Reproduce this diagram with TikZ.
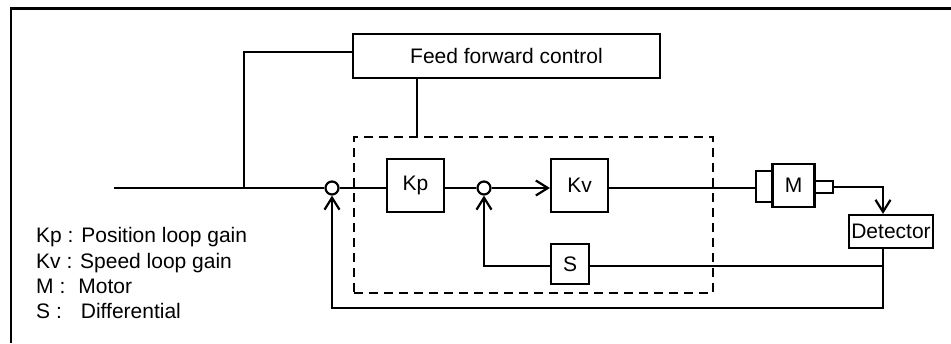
\documentclass[tikz,border=0pt]{standalone}
\usepackage{fontspec}
\setmainfont{Liberation Sans}
\usetikzlibrary{arrows.meta}
\begin{document}
\begin{tikzpicture}[x=1pt,y=-1pt,
  ln/.style={line width=2.2pt},
  blk/.style={draw,line width=2.2pt,inner sep=0pt,font=\fontsize{21}{25}\selectfont},
  sumj/.style={draw,circle,line width=2.2pt,minimum size=13pt,inner sep=0pt},
  arr/.style={-{Straight Barb[length=12pt,width=15pt]}},
  txt/.style={font=\fontsize{21}{25}\selectfont,inner sep=0pt,anchor=base west}]
\useasboundingbox (0,0) rectangle (951,343);
\draw[ln] (11,343) -- (11,8.5) -- (951,8.5);
% blocks
\node[blk,minimum width=307pt,minimum height=44pt] (ff) at (506.5,56) {Feed forward control};
\node[draw,dashed,line width=2.6pt,dash pattern=on 9pt off 6pt,minimum width=359pt,minimum height=156pt] (inner) at (533.5,215) {};
\node[blk,minimum width=57pt,minimum height=53pt] (kp) at (415.5,185.5) {Kp};
\node[blk,minimum width=57pt,minimum height=53pt] (kv) at (579.5,185.5) {Kv};
\node[blk,minimum width=38pt,minimum height=40pt] (s) at (570,264) {S};
\node[blk,minimum width=16pt,minimum height=31pt] (mleft) at (764,186.5) {};
\node[blk,minimum width=42pt,minimum height=43pt] (m) at (793.5,185.5) {M};
\node[blk,minimum width=19pt,minimum height=12pt] (shaft) at (823.5,187) {};
\node[blk,minimum width=84pt,minimum height=33pt] (det) at (891,231.5) {Detector};
\node[sumj] (sum1) at (332,188) {};
\node[sumj] (sum2) at (484,188) {};
% coordinates
\coordinate (in) at (114,188);
\coordinate (jn) at (244,188);
\coordinate (ffd) at (417,137);
\coordinate (dx) at (883,308);
\coordinate (sj) at (883,266);
% connectors
\draw[ln] (in) -- (sum1.west);
\draw[ln] ([yshift=4pt]ff.west) -| (jn);
\draw[ln] (ffd |- ff.south) -- (ffd);
\draw[ln] (sum1.east) -- (sum1.east -| kp.west);
\draw[ln] (kp.east |- sum2.west) -- (sum2.west);
\draw[ln,arr] (sum2.east) -- (sum2.east -| kv.west);
\draw[ln] (kv.east |- sum2) -- (sum2 -| mleft.west);
\draw[ln,arr] (shaft.east) -| (dx |- det.north);
\draw[ln,arr] (dx |- det.south) -- (dx) -| (sum1.south);
\draw[ln] (sj) -- (sj -| s.east);
\draw[ln,arr] (s.west |- sj) -| (sum2.south);
% legend
\node[txt] (l1) at (36,242) {Kp : Position loop gain};
\node[txt] (l2) at (36,268) {Kv : Speed loop gain};
\node[txt] (l3) at (36,293) {M :\hspace{13pt}Motor};
\node[txt] (l4) at (36,318) {S :\hspace{19pt}Differential};
\end{tikzpicture}
\end{document}
